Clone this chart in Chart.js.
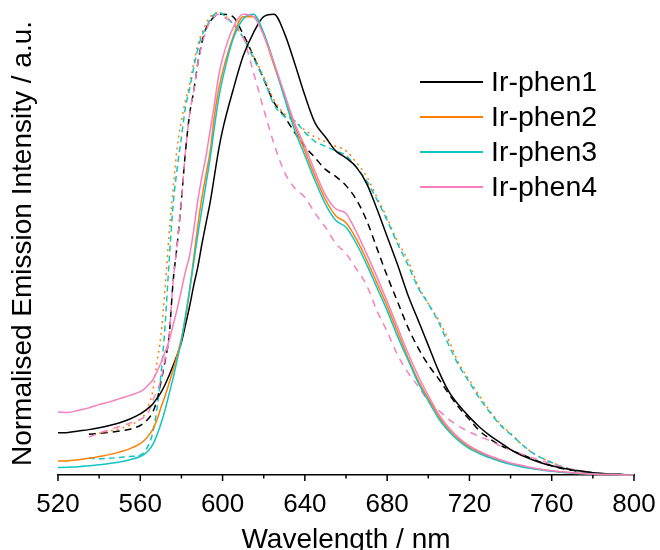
<!DOCTYPE html>
<html lang="en">
<head>
  <meta charset="UTF-8">
  <title>Emission spectra - Ir-phen</title>
  <script src="https://cdn.jsdelivr.net/npm/chart.js"></script>
  <style>
    html, body { margin: 0; padding: 0; background: #fff; }
    #wrap { width: 660px; height: 550px; }
  </style>
</head>
<body>
  <div id="wrap">
    <canvas id="grafico" width="660" height="550"></canvas>
  </div>

  <script>
    // wavelength grid (nm), denser over the steep rise
    const wavelength = [
      520, 525, 530, 535, 540, 545, 550, 555, 560,
      562, 564, 566, 568, 570, 572, 574, 576, 578, 580, 582, 584, 586, 588, 590, 592, 594, 596, 598, 600,
      605, 610, 615, 620, 625, 630, 635, 640, 645, 650,
      655, 660, 665, 670, 675, 680, 685, 690, 695, 700,
      705, 710, 715, 720, 725, 730, 735, 740, 745, 750,
      755, 760, 765, 770, 775, 780, 785, 790, 795, 800
    ];

    const xTicks = [520, 560, 600, 640, 680, 720, 760, 800];
    const seriesNames = ['Ir-phen1', 'Ir-phen2', 'Ir-phen3', 'Ir-phen4'];

    // solid curves
    const phen1 = [
      .091, .092, .095, .098, .102, .107, .113, .121, .132,
      .138, .145, .153, .165, .178, .195, .215, .237, .260, .287, .325, .365, .410, .450, .500, .545, .590, .645, .700, .745,
      .830, .905, .955, .990, .995, .955, .890, .820, .760, .730,
      .700, .685, .665, .630, .575, .515, .455, .390, .335, .280,
      .225, .180, .150, .125, .103, .085, .070, .055, .043, .034,
      .026, .020, .015, .011, .008, .005, .003, .002, .001, 0
    ];
    const phen2 = [
      .030, .031, .033, .036, .040, .044, .050, .057, .068,
      .075, .085, .098, .118, .145, .170, .198, .228, .260, .295, .340, .400, .470, .540, .600, .650, .700, .775, .830, .870,
      .945, .990, .990, .950, .885, .820, .755, .700, .645, .595,
      .560, .545, .510, .465, .415, .365, .310, .255, .205, .165,
      .127, .098, .077, .060, .049, .039, .031, .025, .020, .015,
      .012, .009, .006, .005, .003, .002, .001, .001, 0, 0
    ];
    const phen3 = [
      .016, .017, .018, .020, .022, .025, .028, .033, .040,
      .045, .053, .065, .085, .110, .140, .175, .210, .250, .290, .345, .400, .460, .520, .575, .630, .685, .750, .810, .855,
      .940, .985, .995, .955, .890, .815, .745, .690, .635, .585,
      .550, .535, .500, .455, .405, .355, .300, .250, .200, .160,
      .122, .094, .073, .057, .046, .037, .029, .023, .018, .014,
      .011, .008, .006, .004, .003, .002, .001, .001, 0, 0
    ];
    const phen4 = [
      .136, .135, .140, .145, .152, .158, .165, .172, .180,
      .186, .195, .205, .222, .242, .265, .290, .325, .360, .400, .440, .475, .530, .594, .645, .690, .745, .800, .860, .900,
      .965, .995, .990, .950, .890, .825, .760, .710, .655, .605,
      .575, .565, .525, .478, .428, .375, .320, .265, .215, .172,
      .132, .102, .080, .063, .051, .041, .033, .026, .021, .016,
      .012, .009, .007, .005, .003, .002, .001, .001, 0, 0
    ];

    // dashed / dotted curves
    const phen1Dashed = [
      null, null, null, .088, .090, .092, .095, .099, .107,
      .113, .122, .135, .160, .200, .245, .300, .420, .500, .595, .700, .780, .830, .890, .935, .965, .980, .990, .995, .995,
      .990, .952, .905, .855, .805, .775, .740, .710, .685, .660,
      .645, .625, .595, .550, .490, .430, .375, .320, .275, .238,
      .208, .175, .145, .120, .095, .078, .064, .054, .045, .036,
      .027, .020, .014, .010, .007, .004, .002, .001, 0, 0
    ];
    const phen2Dashed = [
      null, null, null, null, .090, .095, .100, .108, .120,
      .130, .150, .180, .240, .300, .400, .520, .620, .710, .765, .810, .845, .890, .930, .955, .975, .990, .995, 1.0, .995,
      .975, .945, .905, .860, .810, .780, .765, .745, .730, .720,
      .710, .700, .675, .645, .600, .555, .505, .465, .410, .370,
      .335, .290, .240, .205, .170, .138, .110, .090, .068, .050,
      .037, .027, .018, .012, .008, .005, .003, .002, .001, 0
    ];
    const phen3Dashed = [
      null, null, null, .037, .035, .036, .038, .040, .043,
      .050, .065, .090, .140, .215, .320, .460, .585, .665, .730, .795, .835, .880, .920, .950, .965, .985, .995, 1.0, .995,
      .975, .945, .900, .855, .800, .775, .765, .740, .720, .710,
      .700, .690, .665, .635, .595, .550, .500, .455, .405, .370,
      .330, .280, .235, .200, .165, .135, .108, .088, .068, .050,
      .037, .027, .018, .012, .008, .005, .003, .002, .001, 0
    ];
    const phen4Dashed = [
      null, null, null, .082, .090, .098, .105, .112, .120,
      .125, .135, .160, .180, .205, .250, .300, .420, .500, .595, .700, .780, .830, .890, .930, .960, .980, .990, .995, .990,
      .975, .945, .870, .790, .715, .655, .620, .600, .565, .535,
      .500, .478, .445, .410, .355, .310, .260, .222, .192, .160,
      .140, .120, .105, .093, .083, .074, .063, .055, .046, .038,
      .031, .024, .017, .012, .008, .005, .003, .001, 0, 0
    ];

    const cores = ['#000000', '#ff7f00', '#14c4c4', '#f77fbd'];

    function pontos(valores) {
      return wavelength.map((w, i) => ({ x: w, y: valores[i] }));
    }

    function serie(label, valores, cor, dash, ordem) {
      return {
        label: label,
        data: pontos(valores),
        borderColor: cor,
        borderWidth: 1.5,
        borderDash: dash,
        pointRadius: 0,
        cubicInterpolationMode: 'monotone',
        spanGaps: false,
        clip: false,
        order: ordem
      };
    }

    // legenda desenhada dentro da area do grafico
    const legendaInterna = {
      id: 'legendaInterna',
      afterDraw(chart) {
        const ctx = chart.ctx;
        ctx.save();
        ctx.font = '28.5px "Liberation Sans", Arial, sans-serif';
        ctx.textBaseline = 'middle';
        ctx.fillStyle = '#000';
        for (let i = 0; i < seriesNames.length; i++) {
          const y = 82 + i * 35;
          ctx.strokeStyle = cores[i];
          ctx.lineWidth = 2;
          ctx.beginPath();
          ctx.moveTo(420, y);
          ctx.lineTo(483, y);
          ctx.stroke();
          ctx.fillText(seriesNames[i], 491, y + 1);
        }
        ctx.restore();
      }
    };

    // tracinhos maiores a cada 40 nm, menores a cada 20 nm
    const tracosEixo = {
      id: 'tracosEixo',
      afterDraw(chart) {
        const ctx = chart.ctx;
        const x = chart.scales.x;
        ctx.save();
        ctx.strokeStyle = '#000';
        ctx.lineWidth = 1.5;
        for (let v = 520; v <= 800; v += 20) {
          const px = x.getPixelForValue(v);
          const tam = xTicks.includes(v) ? 6 : 3.5;
          ctx.beginPath();
          ctx.moveTo(px, x.top);
          ctx.lineTo(px, x.top + tam);
          ctx.stroke();
        }
        ctx.restore();
      }
    };

    const ctx = document.getElementById('grafico').getContext('2d');
    new Chart(ctx, {
      type: 'line',
      data: {
        datasets: [
          serie('Ir-phen1 b', phen1Dashed, cores[0], [7, 5], 8),
          serie('Ir-phen2 b', phen2Dashed, cores[1], [2, 4], 7),
          serie('Ir-phen3 b', phen3Dashed, cores[2], [6, 4], 6),
          serie('Ir-phen4 b', phen4Dashed, cores[3], [7, 6], 5),
          serie('Ir-phen1', phen1, cores[0], [], 4),
          serie('Ir-phen2', phen2, cores[1], [], 3),
          serie('Ir-phen3', phen3, cores[2], [], 2),
          serie('Ir-phen4', phen4, cores[3], [], 1)
        ]
      },
      options: {
        responsive: false,
        animation: false,
        layout: {
          padding: { top: 12, right: 26, left: 0, bottom: 0 }
        },
        plugins: {
          legend: { display: false },
          tooltip: { enabled: false }
        },
        scales: {
          x: {
            type: 'linear',
            min: 520,
            max: 800,
            afterFit(scale) {
              scale.height = 75;
              scale.paddingLeft = 0;
              scale.paddingRight = 0;
            },
            afterBuildTicks(scale) { scale.ticks = xTicks.map(v => ({ value: v })); },
            grid: { display: true, drawOnChartArea: false, drawTicks: false },
            border: { display: true, color: '#000', width: 1.5 },
            ticks: {
              color: '#000',
              padding: 14,
              maxRotation: 0,
              font: { family: '"Liberation Sans", Arial, sans-serif', size: 26 }
            },
            title: {
              display: true,
              text: 'Wavelength / nm',
              color: '#000',
              padding: { top: 0, bottom: -4 },
              font: { family: '"Liberation Sans", Arial, sans-serif', size: 28, lineHeight: 1 }
            }
          },
          y: {
            min: 0,
            max: 1,
            afterFit(scale) { scale.width = 58; },
            grid: { display: false },
            border: { display: false },
            ticks: { display: false },
            title: {
              display: true,
              text: 'Normalised Emission Intensity / a.u.',
              color: '#000',
              padding: { top: 9, bottom: 0 },
              font: { family: '"Liberation Sans", Arial, sans-serif', size: 28, lineHeight: 1 }
            }
          }
        }
      },
      plugins: [legendaInterna, tracosEixo]
    });
  </script>
</body>
</html>
